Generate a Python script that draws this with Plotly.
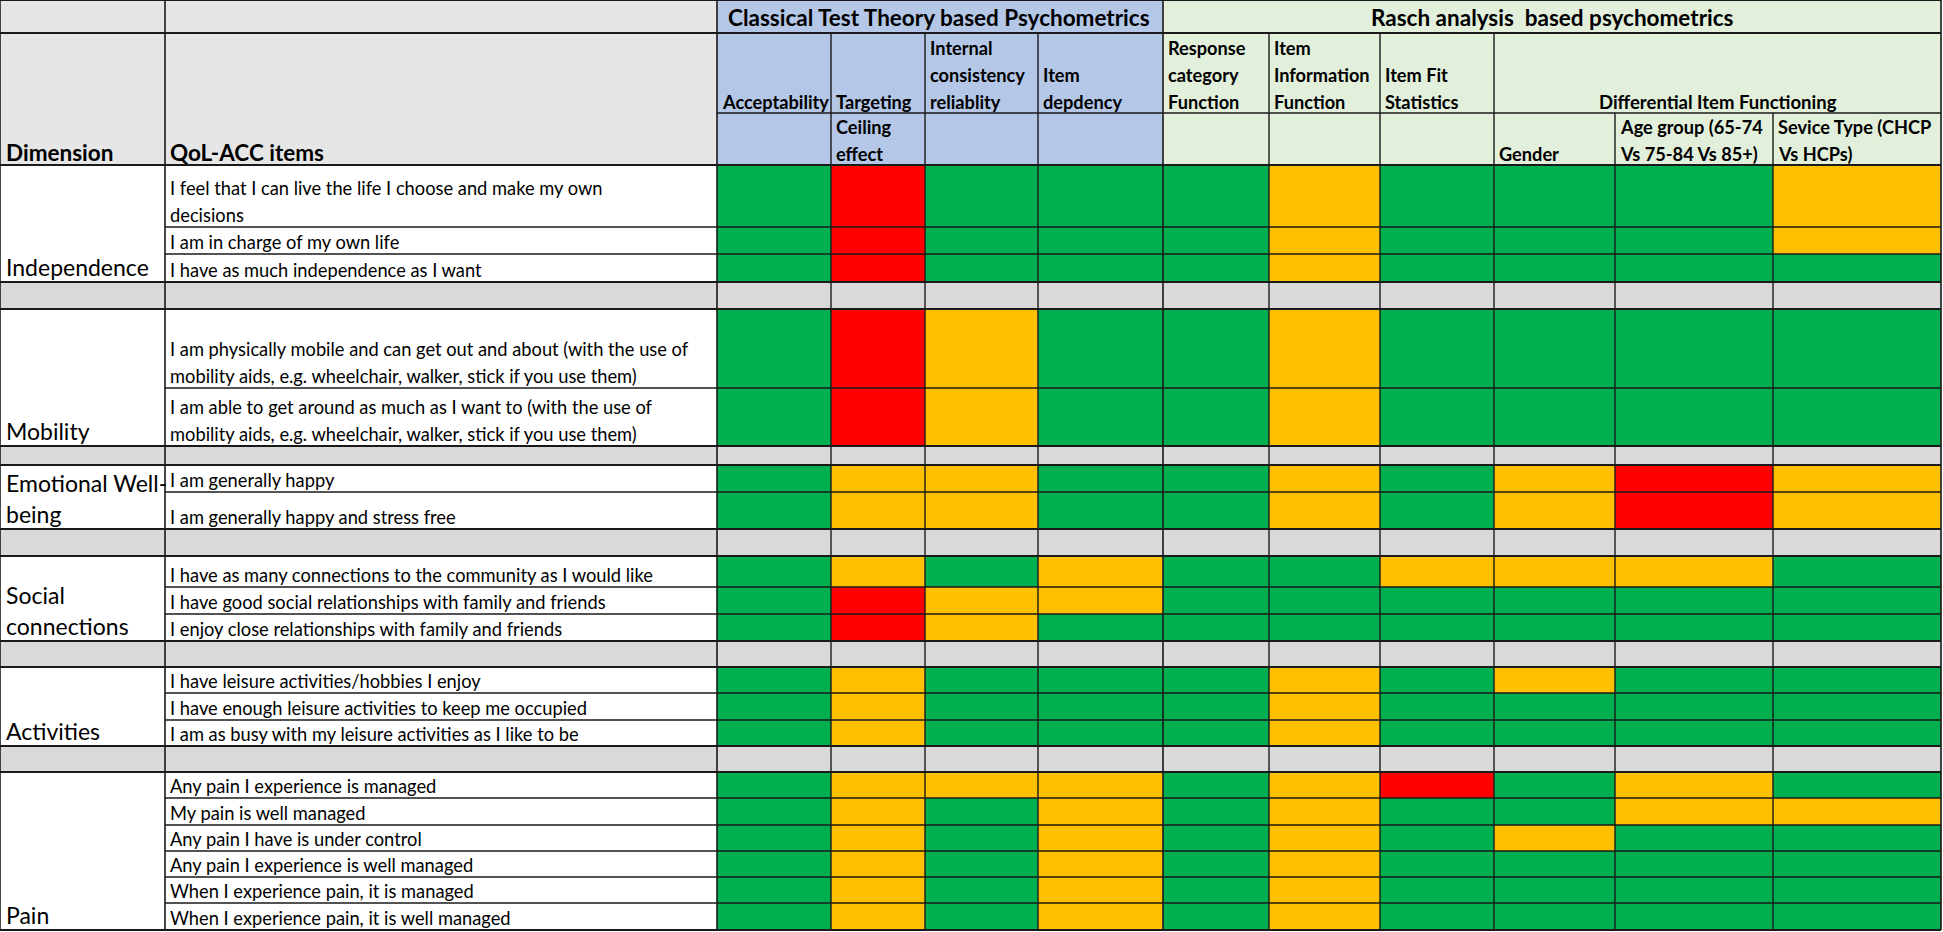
import plotly.graph_objects as go

# Rating codes: G = good (green), O = borderline (amber), R = poor (red)
metric_columns = ["Acceptability", "Targeting", "Internal consistency reliablity", "Item depdency",
                  "Response category Function", "Item Information Function", "Item Fit Statistics",
                  "Gender", "Age group (65-74 Vs 75-84 Vs 85+)", "Sevice Type (CHCP Vs HCPs)"]

dimensions = ["Independence", "Mobility", "Emotional Well-being", "Social connections", "Activities", "Pain"]

independence_items = ["I feel that I can live the life I choose and make my own\ndecisions",
                      "I am in charge of my own life",
                      "I have as much independence as I want"]
independence_ratings = [list("GRGGGOGGGO"), list("GRGGGOGGGO"), list("GRGGGOGGGG")]

mobility_items = ["I am physically mobile and can get out and about (with the use of\nmobility aids, e.g. wheelchair, walker, stick if you use them)",
                  "I am able to get around as much as I want to (with the use of\nmobility aids, e.g. wheelchair, walker, stick if you use them)"]
mobility_ratings = [list("GROGGOGGGG"), list("GROGGOGGGG")]

emotional_items = ["I am generally happy", "I am generally happy and stress free"]
emotional_ratings = [list("GOOGGOGORO"), list("GOOGGOGORO")]

social_items = ["I have as many connections to the community as I would like",
                "I have good social relationships with family and friends",
                "I enjoy close relationships with family and friends"]
social_ratings = [list("GOGOGGOOOG"), list("GROOGGGGGG"), list("GROGGGGGGG")]

activities_items = ["I have leisure activities/hobbies I enjoy",
                    "I have enough leisure activities to keep me occupied",
                    "I am as busy with my leisure activities as I like to be"]
activities_ratings = [list("GOGGGOGOGG"), list("GOGGGOGGGG"), list("GOGGGOGGGG")]

pain_items = ["Any pain I experience is managed", "My pain is well managed", "Any pain I have is under control",
              "Any pain I experience is well managed", "When I experience pain, it is managed",
              "When I experience pain, it is well managed"]
pain_ratings = [list("GOOOGORGOG"), list("GOGOGOGGOO"), list("GOGOGOGOGG"),
                list("GOGOGOGGGG"), list("GOGOGOGGGG"), list("GOGOGOGGGG")]

dimension_labels = ["Independence", "Mobility", "Emotional Well-\nbeing", "Social\nconnections", "Activities", "Pain"]

# ---- layout (pixel units) ----
W, H = 1943, 932
COL_EDGES = [0, 165, 717, 831, 925, 1038, 1163, 1269, 1380, 1494, 1615, 1773, 1941]
HEADER_BOTTOM = 165
ROW_HEIGHTS = [[62, 27, 28], [79, 58], [27, 37], [31, 27, 27], [26, 27, 26], [26, 27, 26, 26, 26, 27]]
GAP_HEIGHTS = [27, 19, 27, 26, 26]

GREEN, AMBER, RED = "#00B050", "#FFC000", "#FF0000"
GAP_GREY, HEAD_GREY = "#D9D9D9", "#E7E6E6"
CTT_BLUE, RASCH_GREEN = "#B4C7E7", "#E2EFDA"
FONT = "Lato"
code = {"G": 0, "O": 1, "R": 2}

blocks = [(independence_items, independence_ratings), (mobility_items, mobility_ratings),
          (emotional_items, emotional_ratings), (social_items, social_ratings),
          (activities_items, activities_ratings), (pain_items, pain_ratings)]

y_edges = [HEADER_BOTTOM]
z = []
block_spans = []
item_rows = []
for b, (items, ratings) in enumerate(blocks):
    top = y_edges[-1]
    for item, rating, h in zip(items, ratings, ROW_HEIGHTS[b]):
        z.append([None, None] + [code[c] for c in rating])
        y_edges.append(y_edges[-1] + h)
        item_rows.append((item, y_edges[-1]))
    block_spans.append((top, y_edges[-1]))
    if b < len(GAP_HEIGHTS):
        z.append([3] * 12)
        y_edges.append(y_edges[-1] + GAP_HEIGHTS[b])

fig = go.Figure(go.Heatmap(
    x=COL_EDGES, y=y_edges, z=z, zmin=0, zmax=3,
    colorscale=[[0, GREEN], [1 / 6, GREEN], [1 / 6, AMBER], [0.5, AMBER],
                [0.5, RED], [5 / 6, RED], [5 / 6, GAP_GREY], [1, GAP_GREY]],
    showscale=False, hoverinfo="skip"))

shapes = []
annotations = []


def rect(x0, x1, y0, y1, color):
    shapes.append(dict(type="rect", xref="x", yref="y", x0=x0, x1=x1, y0=y0, y1=y1,
                       fillcolor=color, line=dict(width=0), layer="below"))


def line(x0, x1, y0, y1, w=1.4):
    shapes.append(dict(type="line", xref="x", yref="y", x0=x0, x1=x1, y0=y0, y1=y1,
                       line=dict(color="#1a1a1a", width=w), layer="above"))


def text(lines, x, bottom, size, bold=False, spacing=27, anchor="left", offset=11):
    parts = lines.split("\n")
    for k, part in enumerate(reversed(parts)):
        annotations.append(dict(
            xref="x", yref="y", x=x, y=bottom - offset - k * spacing,
            text="<b>%s</b>" % part if bold else part, showarrow=False,
            xanchor=anchor, yanchor="middle",
            font=dict(family=FONT, size=size, color="black")))


# header backgrounds
rect(0, 717, 0, HEADER_BOTTOM, HEAD_GREY)
rect(717, 1163, 0, HEADER_BOTTOM, CTT_BLUE)
rect(1163, 1941, 0, HEADER_BOTTOM, RASCH_GREEN)

# header text
text("Dimension", 4, HEADER_BOTTOM, 22.5, bold=True, offset=13)
text("QoL-ACC items", 168, HEADER_BOTTOM, 22.5, bold=True, offset=13)
text("Classical Test Theory based Psychometrics", 939, 33, 22.5, bold=True, anchor="center", offset=16)
text("Rasch analysis  based psychometrics", 1552, 33, 22.5, bold=True, anchor="center", offset=16)
sub_headers = ["Acceptability", "Targeting", "Internal\nconsistency\nreliablity", "Item\ndepdency",
               "Response\ncategory\nFunction", "Item\nInformation\nFunction", "Item Fit\nStatistics"]
for i, label in enumerate(sub_headers):
    text(label, COL_EDGES[2 + i] + 3, 113, 18.2, bold=True)
text("Differential Item Functioning", (1494 + 1941) / 2, 113, 18.5, bold=True, anchor="center")
third_headers = {3: "Ceiling\neffect", 9: "Gender", 10: "Age group (65-74\nVs 75-84 Vs 85+)",
                 11: "Sevice Type (CHCP\nVs HCPs)"}
for col, label in third_headers.items():
    text(label, COL_EDGES[col] + 3, HEADER_BOTTOM, 18.2, bold=True)

# item and dimension text
for item, bottom in item_rows:
    text(item, 168, bottom, 18.3, spacing=27, offset=12)
for label, (top, bottom) in zip(dimension_labels, block_spans):
    text(label, 4, bottom, 23, spacing=31, offset=15)

# grid lines
bottom_edge = y_edges[-1]
for y in (0, 33, HEADER_BOTTOM):
    line(0, 1941, y, y, 1.8)
line(717, 1941, 113, 113)
for x in (0, 165, 717, 1163, 1941):
    line(x, x, 0, bottom_edge, 1.6)
for x in (831, 925, 1038, 1269, 1380, 1494):
    line(x, x, 33, bottom_edge)
for x in (1615, 1773):
    line(x, x, 113, bottom_edge)
for b, (top, bottom) in enumerate(block_spans):
    line(0, 1941, top, top, 2)
    line(0, 1941, bottom, bottom, 2)
    for y in y_edges:
        if top < y < bottom:
            line(165, 1941, y, y)

fig.update_layout(
    width=W, height=H, margin=dict(l=0, r=0, t=0, b=0),
    paper_bgcolor="white", plot_bgcolor="white",
    xaxis=dict(range=[0, W], visible=False, fixedrange=True),
    yaxis=dict(range=[H, 0], visible=False, fixedrange=True),
    shapes=shapes, annotations=annotations, showlegend=False)

# drop the default page margin so the table sits flush with the window edge
fig.write_html("out.html", config={"displayModeBar": False},
               post_script="document.body.style.margin = '0';")
